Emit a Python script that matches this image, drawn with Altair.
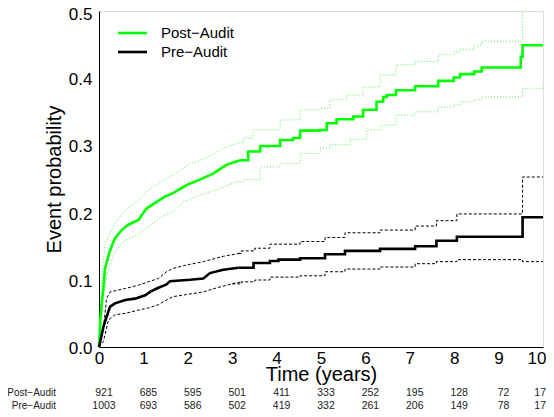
import altair as alt
import pandas as pd

FONT = "Liberation Sans"
groups = ["Post\u2212Audit", "Pre\u2212Audit"]
colors = ["#00ff00", "#000000"]

# Post-Audit cumulative incidence (estimate, lower, upper)
post_t = [0, 0.03, 0.07, 0.10, 0.135, 0.25, 0.36, 0.51, 0.66, 0.89, 0.96, 1.07, 1.30, 1.49, 1.67,
          1.97, 2.27, 2.57, 2.87, 3.18, 3.36, 3.63, 4.08, 4.37, 4.53, 4.98, 5.13, 5.35, 5.73, 5.95,
          6.25, 6.40, 6.48, 6.69, 7.12, 7.64, 7.99, 8.13, 8.45, 8.62, 9.50, 9.54, 10.0]
post_p = [0, 0.04, 0.07, 0.088, 0.117, 0.144, 0.162, 0.174, 0.182, 0.189, 0.196, 0.206, 0.216, 0.224, 0.229,
          0.241, 0.249, 0.258, 0.271, 0.278, 0.291, 0.299, 0.308, 0.311, 0.322, 0.323, 0.333, 0.339, 0.343, 0.353,
          0.365, 0.372, 0.375, 0.382, 0.388, 0.396, 0.401, 0.406, 0.410, 0.416, 0.432, 0.449, 0.449]

post_hi_t = [0, 0.03, 0.07, 0.135, 0.21, 0.36, 0.59, 0.89, 1.07, 1.34, 1.67, 2.05, 2.42, 2.80, 3.14,
             3.25, 3.47, 4.08, 4.53, 4.98, 5.20, 5.58, 5.95, 6.33, 6.69, 7.12, 7.64, 7.99, 8.13, 8.45,
             8.62, 9.54]
post_hi_p = [0, 0.06, 0.11, 0.152, 0.164, 0.184, 0.204, 0.219, 0.231, 0.244, 0.256, 0.273, 0.281, 0.296, 0.304,
             0.311, 0.323, 0.338, 0.353, 0.355, 0.368, 0.375, 0.387, 0.405, 0.420, 0.425, 0.435, 0.439, 0.443, 0.449,
             0.455, 0.499]

post_lo_t = [0, 0.05, 0.10, 0.21, 0.36, 0.59, 0.89, 1.11, 1.41, 1.67, 1.90, 2.27, 2.65, 3.10, 3.25,
             3.63, 4.08, 4.53, 4.98, 5.20, 5.65, 6.03, 6.33, 6.69, 7.12, 7.64, 7.99, 8.13, 8.45, 8.62,
             9.54, 10.0]
post_lo_p = [0, 0.04, 0.08, 0.115, 0.142, 0.159, 0.167, 0.179, 0.194, 0.201, 0.216, 0.226, 0.234, 0.246, 0.249,
             0.268, 0.273, 0.288, 0.296, 0.301, 0.309, 0.323, 0.330, 0.345, 0.350, 0.357, 0.360, 0.365, 0.368, 0.372,
             0.385, 0.385]

# Pre-Audit cumulative incidence (estimate, lower, upper)
pre_t = [0, 0.05, 0.10, 0.135, 0.25, 0.36, 0.59, 0.81, 1.04, 1.15, 1.30, 1.52, 1.60, 2.05, 2.35,
         2.50, 2.80, 3.14, 3.48, 3.85, 4.04, 4.53, 5.09, 5.54, 6.33, 7.12, 7.60, 8.06, 9.54, 10.0]
pre_p = [0, 0.015, 0.03, 0.038, 0.060, 0.065, 0.070, 0.072, 0.077, 0.082, 0.087, 0.093, 0.098, 0.100, 0.102,
         0.110, 0.115, 0.118, 0.125, 0.128, 0.130, 0.132, 0.138, 0.143, 0.146, 0.150, 0.158, 0.164, 0.193, 0.193]

pre_hi_t = [0, 0.10, 0.17, 0.25, 0.59, 0.89, 1.11, 1.34, 1.52, 1.67, 1.97, 2.35, 2.80, 3.14, 3.21,
            3.51, 3.85, 4.53, 5.09, 5.54, 6.33, 7.12, 7.60, 8.06, 9.54, 10.0]
pre_hi_p = [0, 0.028, 0.072, 0.082, 0.087, 0.092, 0.097, 0.102, 0.112, 0.117, 0.122, 0.127, 0.135, 0.139, 0.143,
            0.147, 0.153, 0.157, 0.163, 0.170, 0.174, 0.180, 0.188, 0.198, 0.253, 0.253]

pre_lo_t = [0, 0.10, 0.21, 0.36, 0.59, 0.89, 1.11, 1.34, 1.52, 1.67, 1.97, 2.35, 2.65, 3.00, 3.21,
            3.51, 3.85, 4.53, 5.09, 5.54, 6.33, 7.12, 7.60, 8.06, 9.54, 10.0]
pre_lo_p = [0, 0.008, 0.040, 0.048, 0.050, 0.055, 0.058, 0.063, 0.070, 0.075, 0.078, 0.082, 0.088, 0.094, 0.097,
            0.0997, 0.104, 0.106, 0.112, 0.116, 0.119, 0.124, 0.127, 0.130, 0.127, 0.127]

# Numbers at risk
risk_times = [0, 1, 2, 3, 4, 5, 6, 7, 8, 9, 10]
post_risk = [921, 685, 595, 501, 411, 333, 252, 195, 128, 72, 17]
pre_risk = [1003, 693, 586, 502, 419, 332, 261, 206, 149, 78, 17]

x_ticks = list(range(0, 11))
y_ticks = [0, 0.1, 0.2, 0.3, 0.4, 0.5]


def frame(group, kind, ts, ps):
    return pd.DataFrame({"group": group, "kind": kind, "t": ts, "p": ps})


curves = pd.concat([
    frame(groups[0], "est", post_t, post_p),
    frame(groups[0], "hi", post_hi_t, post_hi_p),
    frame(groups[0], "lo", post_lo_t, post_lo_p),
    frame(groups[1], "est", pre_t, pre_p),
    frame(groups[1], "hi", pre_hi_t, pre_hi_p),
    frame(groups[1], "lo", pre_lo_t, pre_lo_p),
], ignore_index=True)

risk_tables = [
    pd.DataFrame({"t": risk_times, "n": post_risk}),
    pd.DataFrame({"t": risk_times, "n": pre_risk}),
]

xscale = alt.Scale(domain=[0, 10], nice=False, zero=True)
yscale = alt.Scale(domain=[0, 0.5], nice=False)
cscale = alt.Scale(domain=groups, range=colors)

last_x = "datum.value == 10"
top_y = "datum.value >= 0.5"
X = alt.X("t:Q", scale=xscale, axis=alt.Axis(
    values=x_ticks, format="d", title="Time (years)", ticks=False, tickSize=0,
    labelPadding=3, labelFontSize=17, labelFont=FONT, labelColor="#000",
    labelAlign=alt.ConditionalAxisLabelAlign(condition={"test": last_x, "value": "right"}, value="center"),
    labelOffset=alt.ConditionalAxisNumber(condition={"test": last_x, "value": 3}, value=0),
    titleFont=FONT, titleFontSize=20, titleFontWeight="normal", titleColor="#000",
    titleX=222, titleY=33, titleBaseline="alphabetic",
    domainColor="#000", domainWidth=1, grid=False, labelFlush=False, labelOverlap=False))
Y = alt.Y("p:Q", scale=yscale, axis=alt.Axis(
    values=y_ticks, format=".1f", title="Event probability", ticks=False, tickSize=0,
    labelPadding=7, labelFontSize=17, labelFont=FONT, labelColor="#000",
    labelOffset=alt.ConditionalAxisNumber(condition={"test": top_y, "value": 3.5}, value=1.5),
    titleFont=FONT, titleFontSize=20, titleFontWeight="normal", titleColor="#000",
    titleX=-39, titleY=168, titleBaseline="alphabetic", titleAngle=270,
    domainColor="#000", domainWidth=1, grid=False, labelFlush=False, labelOverlap=False))

base = alt.Chart(curves)
EARLY = alt.datum.t <= 3.22   # dense tiny steps -> drawn as a smooth path
LATE = alt.datum.t >= 2.95    # visible stair steps


def ci_layers(group, color, dash, width, opacity):
    out = []
    for cond, interp in ((EARLY, "linear"), (LATE, "step-after")):
        out.append(base.transform_filter(
            (alt.datum.group == group) & (alt.datum.kind != "est") & cond
        ).mark_line(interpolate=interp, strokeWidth=width, strokeDash=dash, color=color,
                    opacity=opacity).encode(x=X, y=Y, detail="kind:N"))
    return out


layers = []
layers += ci_layers(groups[0], "#33ee33", [1, 2], 1, 0.85)
layers += ci_layers(groups[1], "#000000", [3, 2], 1, 1)
for cond, interp in ((EARLY, "linear"), (LATE, "step-after")):
    layers.append(base.transform_filter((alt.datum.kind == "est") & cond).mark_line(
        interpolate=interp, strokeWidth=2.6).encode(
        x=X, y=Y, color=alt.Color("group:N", scale=cscale, legend=None)))

# legend (manual, top-left inside the plot) and numbers-at-risk table
legend_rows = [22, 41]
risk_rows = [385, 397.5]
for i, g in enumerate(groups):
    one = pd.DataFrame({"group": [g]})
    layers.append(alt.Chart(one).mark_rule(strokeWidth=2.6, color=colors[i]).encode(
        x=alt.value(19), x2=alt.value(48), y=alt.value(legend_rows[i])))
    layers.append(alt.Chart(one).mark_text(
        align="left", baseline="middle", font=FONT, fontSize=15, color="#000").encode(
        x=alt.value(62), y=alt.value(legend_rows[i]), text="group:N"))
    layers.append(alt.Chart(one).mark_text(
        align="right", baseline="alphabetic", font=FONT, fontSize=10, color="#222").encode(
        x=alt.value(-43), y=alt.value(risk_rows[i]), text="group:N"))
    tbl = alt.Chart(risk_tables[i])
    layers.append(tbl.transform_filter(alt.datum.t < 10).mark_text(
        align="center", baseline="alphabetic", font=FONT, fontSize=10.5, color="#222", dx=5).encode(
        x=alt.X("t:Q", scale=xscale), y=alt.value(risk_rows[i]), text="n:Q"))
    layers.append(tbl.transform_filter(alt.datum.t >= 10).mark_text(
        align="right", baseline="alphabetic", font=FONT, fontSize=10.5, color="#222", dx=3).encode(
        x=alt.X("t:Q", scale=xscale), y=alt.value(risk_rows[i]), text="n:Q"))

chart = alt.layer(*layers).properties(
    width=444, height=336,
    autosize=alt.AutoSizeParams(type="none"),
    padding={"left": 91, "top": 3, "right": 3, "bottom": 62},
).configure_view(stroke=None).configure(background="white")

chart.save("out.html", embed_options={"renderer": "svg", "actions": False})
